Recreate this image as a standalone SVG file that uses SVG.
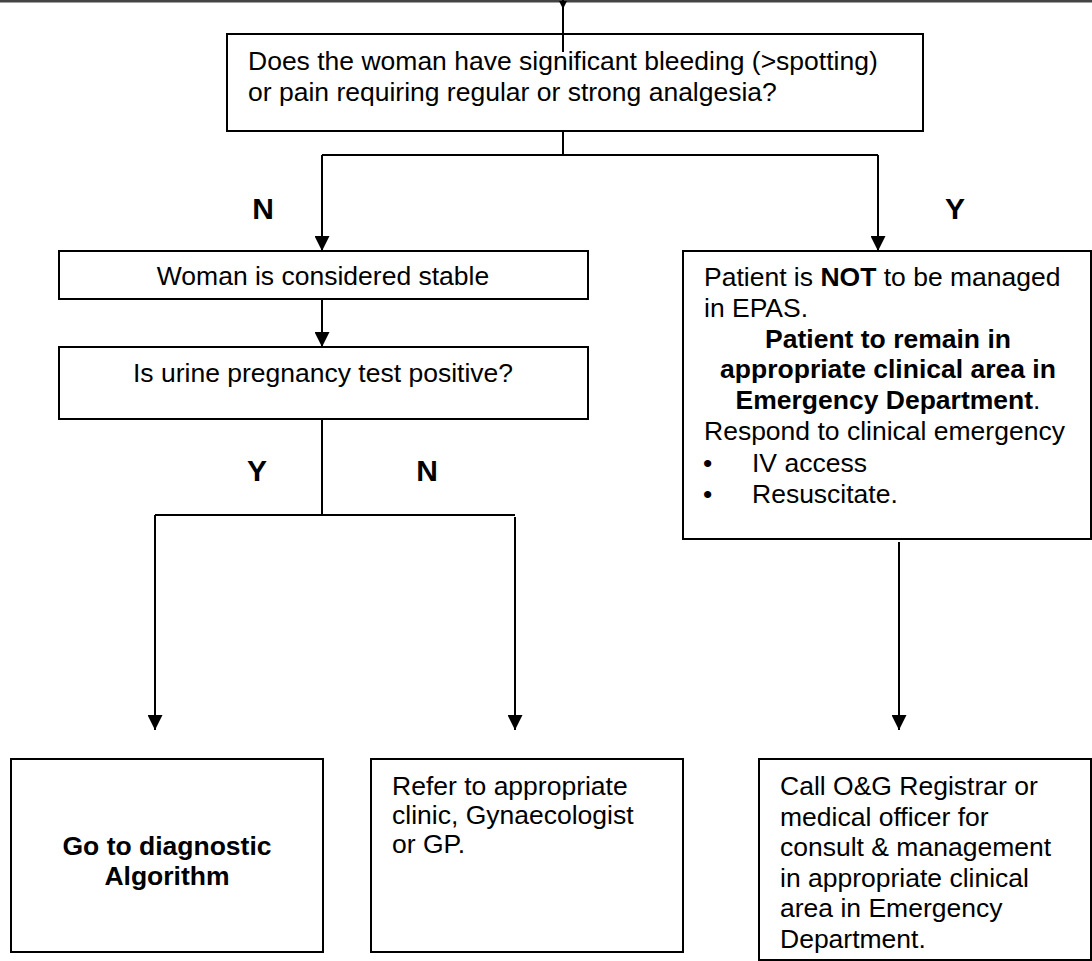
<svg xmlns="http://www.w3.org/2000/svg" width="1092" height="961" viewBox="0 0 1092 961">
<style>
.box{fill:#fff;stroke:#000;stroke-width:2}
.t{font-family:"Liberation Sans",Arial,sans-serif;font-size:26.5px;fill:#000}
.b{font-weight:bold}
.c{text-anchor:middle}
.lab{font-family:"Liberation Sans",Arial,sans-serif;font-size:30px;font-weight:bold;fill:#000;text-anchor:middle}
.ln{fill:none;stroke:#000;stroke-width:2}
</style>
<defs>
<marker id="ah" viewBox="0 0 10 10" refX="10" refY="5" markerWidth="15" markerHeight="15" markerUnits="userSpaceOnUse" orient="auto">
<path d="M0,0 L10,5 L0,10 Z" fill="#000"/>
</marker>
<marker id="ahs" viewBox="0 0 10 10" refX="10" refY="5" markerWidth="8" markerHeight="8" markerUnits="userSpaceOnUse" orient="auto">
<path d="M0,0 L10,5 L0,10 Z" fill="#000"/>
</marker>
</defs>
<rect width="1092" height="961" fill="#fff"/>
<line x1="0" y1="1" x2="1092" y2="1" stroke="#444" stroke-width="3"/>
<g id="q1">
<rect class="box" x="227" y="34" width="696" height="97"/>
<text class="t" x="248" y="70">Does the woman have significant bleeding (&gt;spotting)</text>
<text class="t" x="248" y="101">or pain requiring regular or strong analgesia?</text>
</g>
<g id="stable">
<rect class="box" x="59" y="251" width="529" height="48"/>
<text class="t c" x="323" y="285">Woman is considered stable</text>
</g>
<g id="q2">
<rect class="box" x="59" y="347" width="529" height="72"/>
<text class="t c" x="323" y="382">Is urine pregnancy test positive?</text>
</g>
<g id="notepas">
<rect class="box" x="683" y="251" width="408" height="288"/>
<text class="t" x="704" y="286">Patient is <tspan class="b">NOT</tspan> to be managed</text>
<text class="t" x="704" y="317">in EPAS.</text>
<text class="t b c" x="888" y="348">Patient to remain in</text>
<text class="t b c" x="888" y="378">appropriate clinical area in</text>
<text class="t c" x="888" y="409"><tspan class="b">Emergency Department</tspan>.</text>
<text class="t" x="704" y="440">Respond to clinical emergency</text>
<text class="t" x="703" y="472">•</text>
<text class="t" x="752" y="472">IV access</text>
<text class="t" x="703" y="503">•</text>
<text class="t" x="752" y="503">Resuscitate.</text>
</g>
<g id="diag">
<rect class="box" x="11" y="759" width="312" height="193"/>
<text class="t b c" x="167" y="855">Go to diagnostic</text>
<text class="t b c" x="167" y="885">Algorithm</text>
</g>
<g id="refer">
<rect class="box" x="371" y="759" width="312" height="193"/>
<text class="t" x="392" y="795">Refer to appropriate</text>
<text class="t" x="392" y="824">clinic, Gynaecologist</text>
<text class="t" x="392" y="853">or GP.</text>
</g>
<g id="call">
<rect class="box" x="759" y="759" width="332" height="201"/>
<text class="t" x="780" y="795">Call O&amp;G Registrar or</text>
<text class="t" x="780" y="826">medical officer for</text>
<text class="t" x="780" y="856">consult &amp; management</text>
<text class="t" x="780" y="887">in appropriate clinical</text>
<text class="t" x="780" y="917">area in Emergency</text>
<text class="t" x="780" y="948">Department.</text>
</g>
<g id="connectors">
<line class="ln" x1="563" y1="0" x2="563" y2="9" marker-end="url(#ahs)"/>
<line class="ln" x1="563" y1="9" x2="563" y2="52"/>
<polyline class="ln" points="563,131 563,155"/>
<polyline class="ln" points="322,155 878,155"/>
<line class="ln" x1="322" y1="155" x2="322" y2="251" marker-end="url(#ah)"/>
<line class="ln" x1="878" y1="155" x2="878" y2="251" marker-end="url(#ah)"/>
<line class="ln" x1="322" y1="299" x2="322" y2="347" marker-end="url(#ah)"/>
<polyline class="ln" points="322,419 322,515"/>
<polyline class="ln" points="155,515 515,515"/>
<line class="ln" x1="155" y1="515" x2="155" y2="730" marker-end="url(#ah)"/>
<line class="ln" x1="515" y1="517" x2="515" y2="730" marker-end="url(#ah)"/>
<line class="ln" x1="899" y1="542" x2="899" y2="730" marker-end="url(#ah)"/>
</g>
<g id="labels">
<text class="lab" x="263" y="219">N</text>
<text class="lab" x="955" y="219">Y</text>
<text class="lab" x="257" y="481">Y</text>
<text class="lab" x="427" y="481">N</text>
</g>
</svg>
